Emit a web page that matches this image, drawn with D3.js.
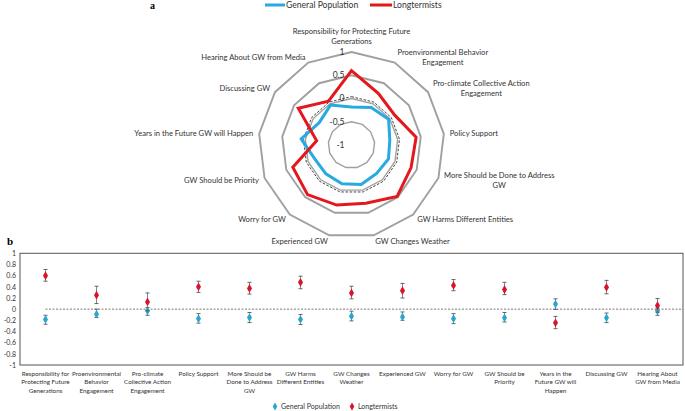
<!DOCTYPE html>
<html><head><meta charset="utf-8">
<script src="https://cdn.jsdelivr.net/npm/d3@7"></script>
<style>body{margin:0;background:#fff}svg{display:block;font-family:Lato,"Open Sans",sans-serif}</style>
</head><body><svg id="c" width="685" height="411"></svg>
<script>
const categories = ["Responsibility for Protecting Future Generations","Proenvironmental Behavior Engagement","Pro-climate Collective Action Engagement","Policy Support","More Should be Done to Address GW","GW Harms Different Entities","GW Changes Weather","Experienced GW","Worry for GW","GW Should be Priority","Years in the Future GW will Happen","Discussing GW","Hearing About GW from Media"];
const radarLabels = [["Responsibility for Protecting Future","Generations"],["Proenvironmental Behavior","Engagement"],["Pro-climate Collective Action","Engagement"],["Policy Support"],["More Should be Done to Address","GW"],["GW Harms Different Entities"],["GW Changes Weather"],["Experienced GW"],["Worry for GW"],["GW Should be Priority"],["Years in the Future GW will Happen"],["Discussing GW"],["Hearing About GW from Media"]];
const axisLabels = [["Responsibility for","Protecting Future","Generations"],["Proenvironmental","Behavior","Engagement"],["Pro-climate","Collective Action","Engagement"],["Policy Support"],["More Should be","Done to Address","GW"],["GW Harms","Different Entities"],["GW Changes","Weather"],["Experienced GW"],["Worry for GW"],["GW Should be","Priority"],["Years in the","Future GW will","Happen"],["Discussing GW"],["Hearing About","GW from Media"]];
const seriesNames = ["General Population","Longtermists"];
const genPop = [-0.185,-0.09,-0.03,-0.17,-0.15,-0.185,-0.125,-0.14,-0.17,-0.155,0.09,-0.155,-0.03];
const genPopHigh = [-0.11,0.0,0.03,-0.08,-0.06,-0.095,-0.036,-0.05,-0.08,-0.06,0.185,-0.07,0.02];
const genPopLow = [-0.27,-0.15,-0.11,-0.25,-0.24,-0.275,-0.21,-0.20,-0.26,-0.23,-0.005,-0.24,-0.11];
const longtermists = [0.6,0.25,0.13,0.40,0.37,0.48,0.29,0.33,0.425,0.35,-0.245,0.39,0.065];
const ltHigh = [0.71,0.41,0.29,0.50,0.48,0.59,0.41,0.46,0.53,0.48,-0.13,0.515,0.19];
const ltLow = [0.50,0.10,-0.03,0.30,0.27,0.365,0.185,0.20,0.33,0.26,-0.35,0.275,-0.055];
const ringValues = [-0.5,0,0.5,1];
const ringTickLabels = ["-0.5","0","0.5","1"];
const centerLabel = "-1";
const yTicks = [1,0.8,0.6,0.4,0.2,0,-0.2,-0.4,-0.6,-0.8,-1];

const BLUE = "#27a9e1", RED = "#e4171d", BLUE2 = "#2aa5cf", RED2 = "#d8142c";
const svg = d3.select("#c");

// ---------- panel a: radar ----------
const cx = 351.5, cy = 145, R = 93;
const n = categories.length;
const rS = d3.scaleLinear().domain([-1,1]).range([0,R]);
const aS = d3.scaleLinear().domain([0,n]).range([0,2*Math.PI]);
const g = svg.append("g").attr("transform",`translate(${cx},${cy})`);
const idx = d3.range(n);
const ringLine = v => d3.lineRadial().angle(i=>aS(i)).radius(()=>rS(v)).curve(d3.curveLinearClosed)(idx);
ringValues.forEach(v=>{
  g.append("path").attr("d",ringLine(v)).attr("fill","none").attr("stroke","#a0a0a0").attr("stroke-width",v>=0.5?1.9:1.4);
});
g.append("path").attr("d",ringLine(0)).attr("fill","none").attr("stroke","#3a3a3a").attr("stroke-width",0.9).attr("stroke-dasharray","2.5,1.5").attr("transform","scale(1.04)");
ringValues.forEach((v,k)=>{
  g.append("text").attr("x",-7).attr("y",-rS(v)).attr("dy","0.35em").attr("text-anchor","end").attr("font-size",8.5).attr("fill","#333").text(ringTickLabels[k]);
});
g.append("text").attr("x",-7).attr("y",0).attr("dy","0.35em").attr("text-anchor","end").attr("font-size",8.5).attr("fill","#333").text(centerLabel);
const seriesLine = arr => d3.lineRadial().angle((d,i)=>aS(i)).radius(d=>rS(d)).curve(d3.curveLinearClosed)(arr);
g.append("path").attr("d",seriesLine(genPop)).attr("fill","none").attr("stroke",BLUE).attr("stroke-width",3);
g.append("path").attr("d",seriesLine(longtermists)).attr("fill","none").attr("stroke",RED).attr("stroke-width",3);

// category labels
const LP = 99, LFS = 7.6, LLH = 10;
radarLabels.forEach((lines,i)=>{
  const a = aS(i), s = Math.sin(a), c = Math.cos(a);
  const px = LP*s, py = -LP*c;
  const t = g.append("text").attr("font-size",LFS).attr("fill","#333").attr("text-anchor","middle");
  const spans = lines.map(l=>t.append("tspan").text(l));
  const w = d3.max(spans,sp=>sp.node().getComputedTextLength());
  const h = lines.length*LLH;
  let xc = px; if (s>0.1) xc = px + w/2; else if (s<-0.1) xc = px - w/2;
  let yTop = py - h/2; if (Math.abs(s)<0.1) yTop = py - h/2 - c*h/2;
  spans.forEach((sp,k)=>sp.attr("x",xc).attr("y",yTop + k*LLH + LLH*0.75));
});

// legend a
const lg = svg.append("g");
[[265,285,BLUE,0],[370,392,RED,1]].forEach(([x0,x1,col,k])=>{
  lg.append("line").attr("x1",x0).attr("x2",x1).attr("y1",5).attr("y2",5).attr("stroke",col).attr("stroke-width",3);
  lg.append("text").attr("x",x1+1).attr("y",8).attr("font-size",8.6).attr("fill","#333").text(seriesNames[k]);
});
svg.append("text").attr("x",150).attr("y",9).attr("font-family","Liberation Serif,serif").attr("font-weight","bold").attr("font-size",10).text("a");
svg.append("text").attr("x",7).attr("y",245).attr("font-family","Liberation Serif,serif").attr("font-weight","bold").attr("font-size",11).text("b");

// ---------- panel b ----------
const x = d3.scaleBand().domain(categories).range([20,683]);
const bw = x.bandwidth();
const y = d3.scaleLinear().domain([-1,1]).range([365,253.3]);
const b = svg.append("g");
b.append("rect").attr("x",20).attr("y",y(1)).attr("width",663).attr("height",y(-1)-y(1)).attr("fill","none").attr("stroke","#555").attr("stroke-width",1);
b.append("line").attr("x1",x(categories[0])+bw/2).attr("x2",683).attr("y1",y(0)).attr("y2",y(0)).attr("stroke","#555").attr("stroke-width",0.8).attr("stroke-dasharray","2,1.5");
const ya = b.append("g").attr("transform","translate(20,0)").call(d3.axisLeft(y).tickValues(yTicks).tickSize(0).tickPadding(4).tickFormat(d=>String(+d.toFixed(1))));
ya.select(".domain").remove();
ya.selectAll("text").attr("font-size",7).attr("fill","#333").attr("font-family","Lato,sans-serif");

const cxs = categories.map(c=>x(c)+bw/2);
function drawSeries(vals,lo,hi,col){
  vals.forEach((v,i)=>{
    const xx = cxs[i];
    b.append("line").attr("x1",xx).attr("x2",xx).attr("y1",y(hi[i])).attr("y2",y(lo[i])).attr("stroke","#777").attr("stroke-width",0.9);
    [hi[i],lo[i]].forEach(e=>b.append("line").attr("x1",xx-2).attr("x2",xx+2).attr("y1",y(e)).attr("y2",y(e)).attr("stroke","#555").attr("stroke-width",0.9));
    b.append("path").attr("d",d3.symbol(d3.symbolDiamond,22)()).attr("transform",`translate(${xx},${y(v)})`).attr("fill",col);
  });
}
drawSeries(genPop,genPopLow,genPopHigh,BLUE2);
drawSeries(longtermists,ltLow,ltHigh,RED2);

axisLabels.forEach((lines,i)=>{
  const t = b.append("text").attr("font-size",6.3).attr("fill","#333").attr("text-anchor","middle");
  lines.forEach((l,k)=>t.append("tspan").attr("x",cxs[i]).attr("y",376+k*8.4).text(l));
});
// legend b
[[275,BLUE2,0],[352,RED2,1]].forEach(([xx,col,k])=>{
  b.append("path").attr("d",d3.symbol(d3.symbolDiamond,18)()).attr("transform",`translate(${xx},406.5)`).attr("fill",col);
  b.append("text").attr("x",xx+6).attr("y",409).attr("font-size",7).attr("fill","#333").text(seriesNames[k]);
});
</script></body></html>
